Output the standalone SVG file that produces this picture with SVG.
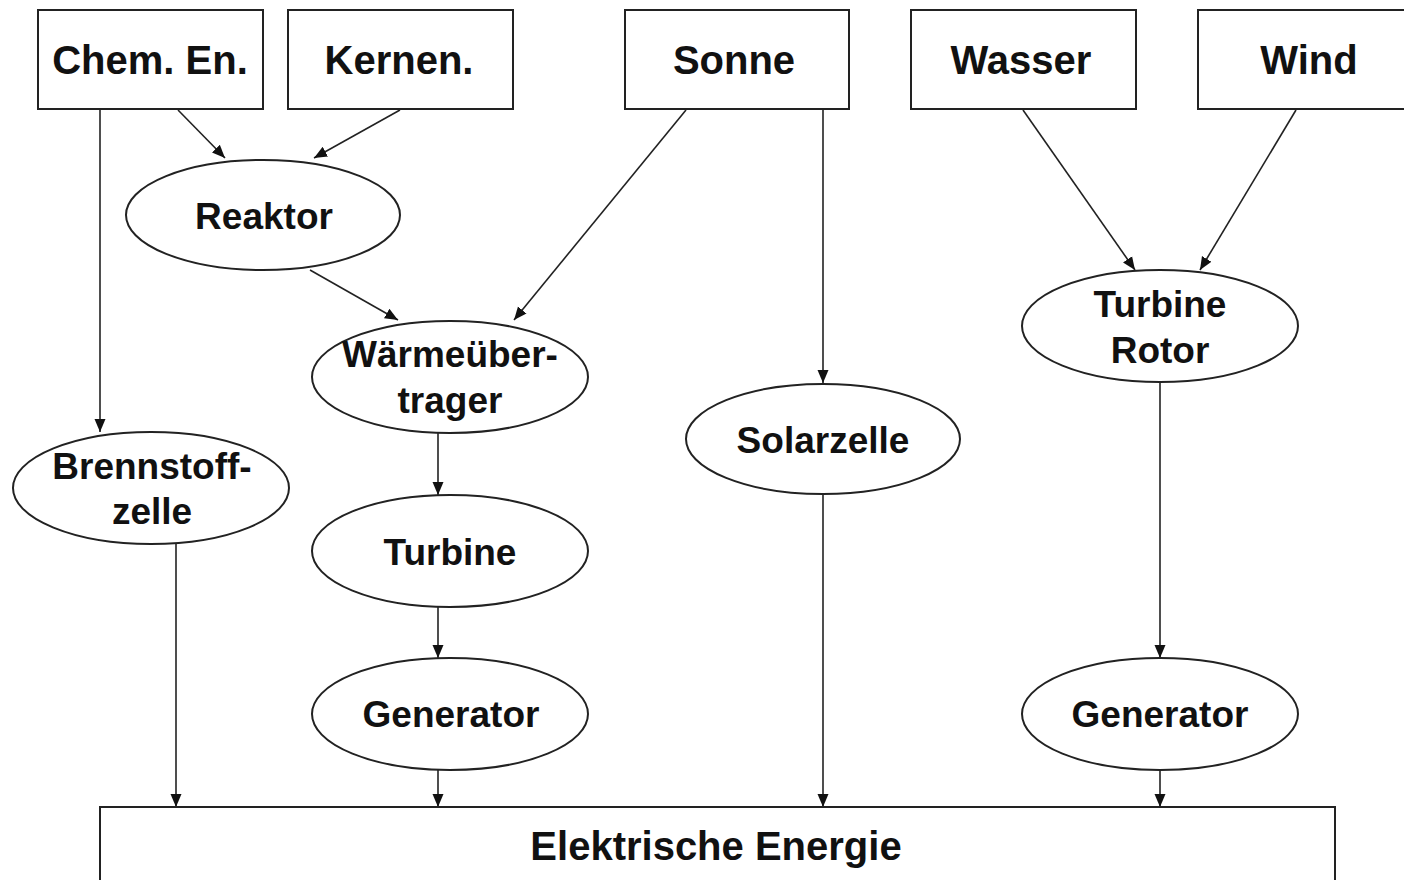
<svg xmlns="http://www.w3.org/2000/svg" width="1404" height="880" viewBox="0 0 1404 880">
<style>
.box{fill:#fff;stroke:#222;stroke-width:2}
.ell{fill:#fff;stroke:#222;stroke-width:2}
.t{font-family:"Liberation Sans",Arial,sans-serif;font-weight:bold;fill:#111;text-anchor:middle}
.tb{font-size:40px}
.te{font-size:37px}
.c{fill:none;stroke:#222;stroke-width:1.6;marker-end:url(#ah)}
</style>
<defs>
<marker id="ah" markerUnits="userSpaceOnUse" markerWidth="14" markerHeight="14" viewBox="0 0 14 14" refX="13" refY="7" orient="auto">
<path d="M0,1.5 L13,7 L0,12.5 z" fill="#111"/>
</marker>
</defs>
<rect width="1404" height="880" fill="#fff"/>
<g id="connectors">
<line class="c" x1="100" y1="109" x2="100" y2="432"/>
<line class="c" x1="178" y1="110" x2="225" y2="158"/>
<line class="c" x1="400" y1="110" x2="314" y2="158"/>
<line class="c" x1="686" y1="110" x2="514" y2="320"/>
<line class="c" x1="310" y1="270" x2="398" y2="320"/>
<line class="c" x1="823" y1="110" x2="823" y2="383"/>
<line class="c" x1="1023" y1="110" x2="1135" y2="270"/>
<line class="c" x1="1296" y1="110" x2="1200" y2="270"/>
<line class="c" x1="438" y1="433" x2="438" y2="495"/>
<line class="c" x1="438" y1="607" x2="438" y2="658"/>
<line class="c" x1="438" y1="770" x2="438" y2="807"/>
<line class="c" x1="176" y1="544" x2="176" y2="807"/>
<line class="c" x1="823" y1="494" x2="823" y2="807"/>
<line class="c" x1="1160" y1="383" x2="1160" y2="658"/>
<line class="c" x1="1160" y1="770" x2="1160" y2="807"/>
</g>
<g id="chem"><rect class="box" x="38" y="10" width="225" height="99"/><text class="t tb" x="150" y="74">Chem. En.</text></g>
<g id="kernen"><rect class="box" x="288" y="10" width="225" height="99"/><text class="t tb" x="399" y="74">Kernen.</text></g>
<g id="sonne"><rect class="box" x="625" y="10" width="224" height="99"/><text class="t tb" x="734" y="74">Sonne</text></g>
<g id="wasser"><rect class="box" x="911" y="10" width="225" height="99"/><text class="t tb" x="1021" y="74">Wasser</text></g>
<g id="wind"><rect class="box" x="1198" y="10" width="225" height="99"/><text class="t tb" x="1309" y="74">Wind</text></g>
<g id="reaktor"><ellipse class="ell" cx="263" cy="215" rx="137" ry="55"/><text class="t te" x="264" y="229">Reaktor</text></g>
<g id="waerme"><ellipse class="ell" cx="450" cy="377" rx="138" ry="56"/><text class="t te" x="450" y="367">Wärmeüber-</text><text class="t te" x="450" y="413">trager</text></g>
<g id="brennstoff"><ellipse class="ell" cx="151" cy="488" rx="138" ry="56"/><text class="t te" x="152" y="479">Brennstoff-</text><text class="t te" x="152" y="524">zelle</text></g>
<g id="turbine"><ellipse class="ell" cx="450" cy="551" rx="138" ry="56"/><text class="t te" x="450" y="565">Turbine</text></g>
<g id="generator1"><ellipse class="ell" cx="450" cy="714" rx="138" ry="56"/><text class="t te" x="451" y="727">Generator</text></g>
<g id="solarzelle"><ellipse class="ell" cx="823" cy="439" rx="137" ry="55"/><text class="t te" x="823" y="453">Solarzelle</text></g>
<g id="rotor"><ellipse class="ell" cx="1160" cy="326" rx="138" ry="56"/><text class="t te" x="1160" y="317">Turbine</text><text class="t te" x="1160" y="363">Rotor</text></g>
<g id="generator2"><ellipse class="ell" cx="1160" cy="714" rx="138" ry="56"/><text class="t te" x="1160" y="727">Generator</text></g>
<g id="elektrisch"><rect class="box" x="100" y="807" width="1235" height="90"/><text class="t tb" x="716" y="860">Elektrische Energie</text></g>
</svg>
